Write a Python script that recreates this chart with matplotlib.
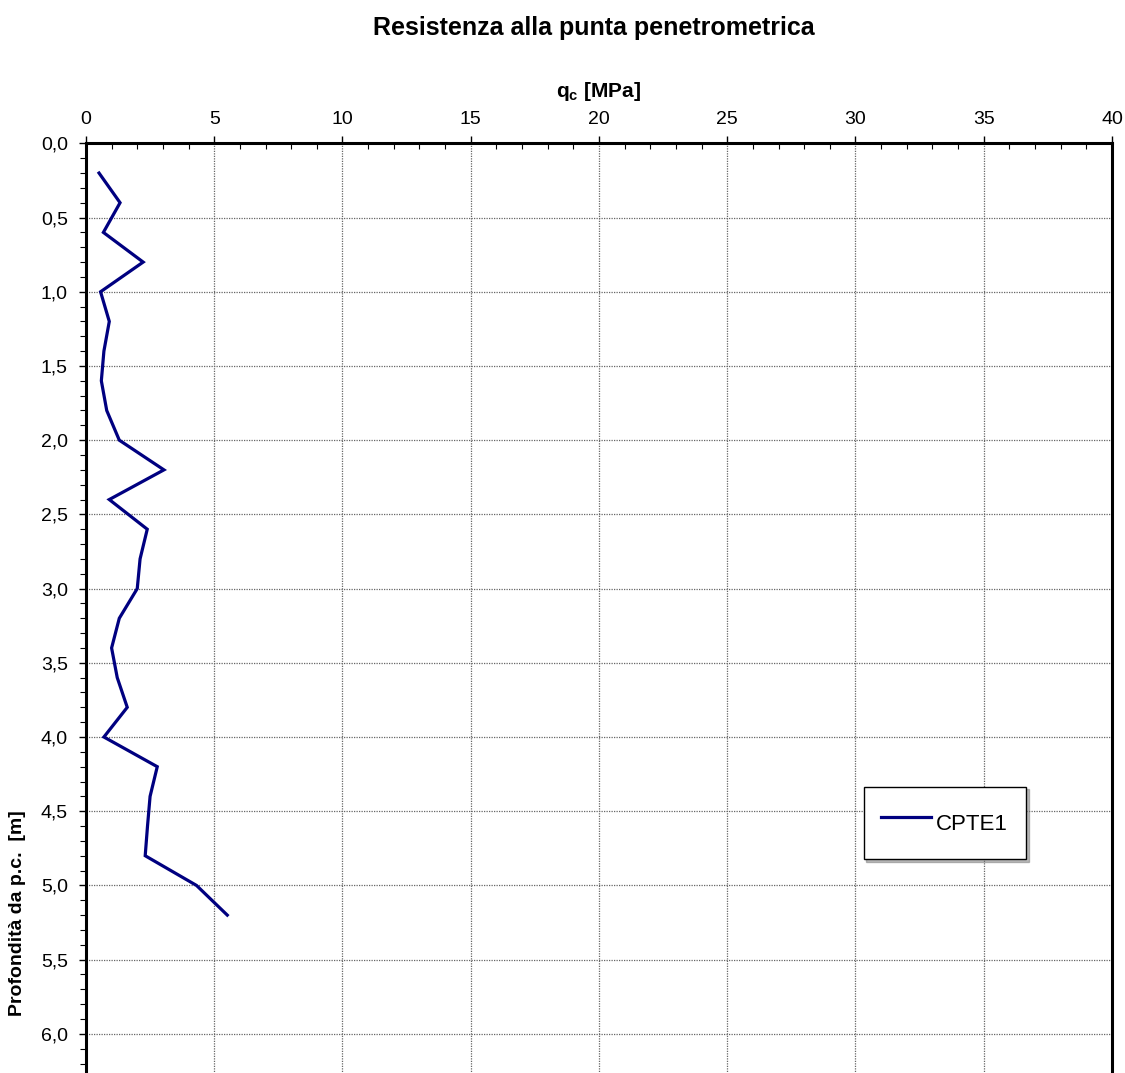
import matplotlib.pyplot as plt
from matplotlib.ticker import MultipleLocator, FuncFormatter

plt.rcParams['font.family'] = ['Liberation Sans', 'DejaVu Sans']

# CPTE1 - resistenza alla punta qc [MPa] vs profondita [m]
depth = [0.2, 0.4, 0.6, 0.8, 1.0, 1.2, 1.4, 1.6, 1.8, 2.0, 2.2, 2.4, 2.6,
         2.8, 3.0, 3.2, 3.4, 3.6, 3.8, 4.0, 4.2, 4.4, 4.6, 4.8, 5.0, 5.2]
qc = [0.51, 1.33, 0.68, 2.23, 0.57, 0.91, 0.70, 0.60, 0.81, 1.30, 3.04, 0.91, 2.39,
      2.11, 2.00, 1.30, 1.00, 1.22, 1.61, 0.70, 2.78, 2.50, 2.40, 2.31, 4.31, 5.51]
series_name = 'CPTE1'

fig = plt.figure(figsize=(11.25, 10.73), dpi=100)
# axes run past the bottom edge of the picture, as in the original
ax = fig.add_axes([0.0764, -0.005, 0.9120, 0.8714])

ax.plot(qc, depth, color='#000080', lw=2.3, label=series_name, solid_joinstyle='miter')

ax.set_xlim(0, 40)
ax.set_ylim(6.3, 0)

ax.xaxis.tick_top()
ax.xaxis.set_label_position('top')
ax.xaxis.set_major_locator(MultipleLocator(5))
ax.xaxis.set_minor_locator(MultipleLocator(1))
ax.yaxis.set_major_locator(MultipleLocator(0.5))
ax.yaxis.set_minor_locator(MultipleLocator(0.1))
ax.yaxis.set_major_formatter(FuncFormatter(lambda v, p: f'{v:.1f}'.replace('.', ',')))

ax.tick_params(axis='x', which='major', direction='out', length=5, width=1, labelsize=14, pad=6)
ax.tick_params(axis='x', which='minor', direction='in', length=4, width=0.8)
ax.tick_params(axis='y', which='major', direction='out', length=5, width=1, labelsize=14, pad=8)
ax.tick_params(axis='y', which='minor', direction='out', length=4, width=0.8)

ax.grid(True, which='major', color='#666666', ls=(0, (1, 1)), lw=0.9)

for s in ['top', 'left', 'right']:
    ax.spines[s].set_linewidth(2.2)
ax.spines['bottom'].set_visible(False)

ax.set_xlabel('q$_\\mathregular{c}$ [MPa]', fontsize=15, fontweight='bold', labelpad=10)
fig.text(0.016, 0.149, 'Profondità da p.c.  [m]', rotation=90, fontsize=14,
         fontweight='bold', ha='center', va='center')
fig.text(0.5276, 0.974, 'Resistenza alla punta penetrometrica', fontsize=18,
         fontweight='bold', ha='center', va='center')

leg = ax.legend(loc='upper left', bbox_to_anchor=(0.758, 0.312), fontsize=16,
                frameon=True, fancybox=False, edgecolor='black', borderpad=0.79,
                borderaxespad=0, handlelength=2.25, handleheight=2.2,
                handletextpad=0.23, shadow={'color': '#777777'})
leg.get_frame().set_linewidth(1.0)

fig.savefig('out.png', dpi=100)
